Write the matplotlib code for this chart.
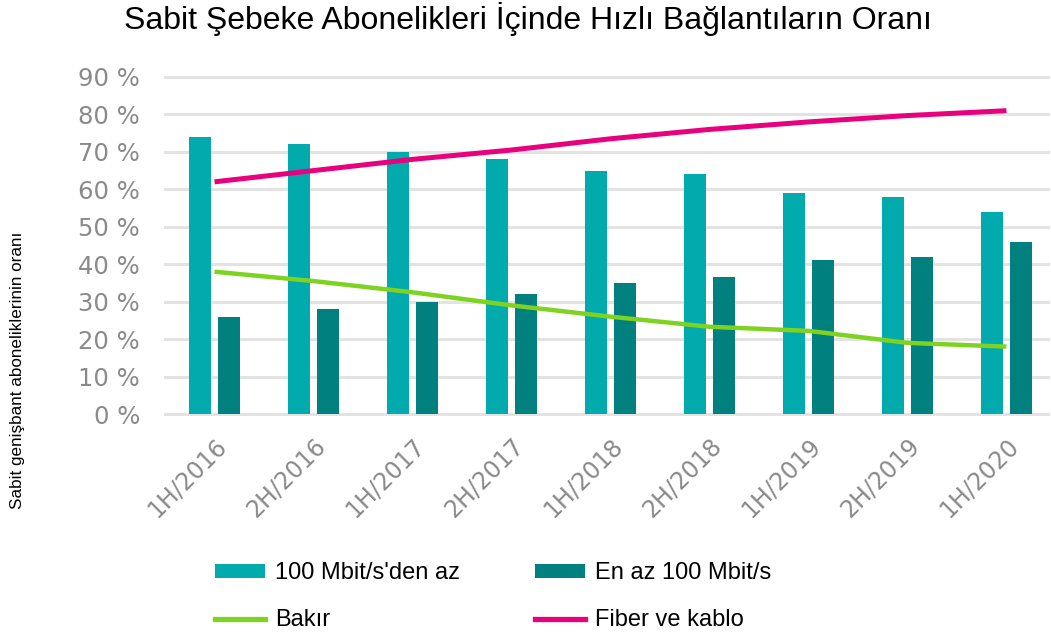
import matplotlib
matplotlib.use("Agg")
import matplotlib.pyplot as plt
from matplotlib.patches import Patch
from matplotlib.lines import Line2D
from matplotlib import font_manager
import numpy as np

categories = ["1H/2016", "2H/2016", "1H/2017", "2H/2017", "1H/2018",
              "2H/2018", "1H/2019", "2H/2019", "1H/2020"]
below_100 = [74, 72, 70, 68, 65, 64, 59, 58, 54]
atleast_100 = [26, 28, 30, 32, 35, 36.5, 41, 42, 46]
bakir = [38, 35.5, 32.5, 29, 26, 23.3, 22.2, 19, 18]
fiber = [62, 65, 68, 70.5, 73.5, 76, 78, 79.7, 81]
yticks = [0, 10, 20, 30, 40, 50, 60, 70, 80, 90]

C_TEAL = "#00AAAD"
C_DARK = "#00807F"
C_GREEN = "#7ED321"
C_PINK = "#E8007D"
GRID = "#E3E3E3"
TICK = "#8A8A8A"

names = {f.name for f in font_manager.fontManager.ttflist}
narrow = "Liberation Sans Narrow" in names

W, H = 1051, 635
fig = plt.figure(figsize=(W / 100, H / 100), dpi=100)
ax_l, ax_r, ax_t, ax_b = 165, 1048, 77, 414
ax = fig.add_axes([ax_l / W, 1 - ax_b / H, (ax_r - ax_l) / W, (ax_b - ax_t) / H])

x = np.arange(len(categories))
bw = 0.22
ax.bar(x - 0.145, below_100, width=bw, color=C_TEAL, zorder=2)
ax.bar(x + 0.145, atleast_100, width=bw, color=C_DARK, zorder=2)
ax.plot(x, bakir, color=C_GREEN, lw=3.2, zorder=3, solid_capstyle="butt")
ax.plot(x, fiber, color=C_PINK, lw=3.6, zorder=3, solid_capstyle="butt")

ax.set_xlim(-0.5, 8.42)
ax.set_ylim(0, 90)
ax.set_yticks(yticks)
ax.set_yticklabels([f"{v} %" for v in yticks], color=TICK, fontsize=17.5,
                   family="DejaVu Sans")
for v in yticks:
    ax.axhline(v, color=GRID, lw=2.2, zorder=1, clip_on=False)
ax.tick_params(axis="y", length=0, pad=18)
ax.tick_params(axis="x", length=0, pad=14)
ax.set_xticks(x)
ax.set_xticklabels(categories, rotation=45, ha="right", va="top",
                   rotation_mode="anchor", color=TICK, fontsize=17,
                   family="DejaVu Sans")
for s in ax.spines.values():
    s.set_visible(False)

fig.text(528 / W, 1 - 19 / H, "Sabit Şebeke Abonelikleri İçinde Hızlı Bağlantıların Oranı",
         ha="center", va="center", fontsize=23, family="Liberation Sans", color="black")
if narrow:
    fig.text(18 / W, 1 - 370 / H, "Sabit genişbant aboneliklerinin oranı", rotation=90,
             ha="center", va="center", fontsize=14,
             family=["Liberation Sans Narrow", "DejaVu Sans"], color="black")
else:
    fig.text(18 / W, 1 - 370 / H, "Sabit genişbant aboneliklerinin oranı", rotation=90,
             ha="center", va="center", fontsize=12.3,
             family=["Liberation Sans", "DejaVu Sans"], color="black")

handles = [Patch(facecolor=C_TEAL), Line2D([0], [0], color=C_GREEN, lw=3.8),
           Patch(facecolor=C_DARK), Line2D([0], [0], color=C_PINK, lw=3.8)]
labels = ["100 Mbit/s'den az", "Bakır", "En az 100 Mbit/s", "Fiber ve kablo"]
fig.legend(handles, labels, ncol=2, loc="upper left",
           bbox_to_anchor=(215 / W, 1 - 562 / H), frameon=False, borderpad=0,
           borderaxespad=0,
           prop={"family": "Liberation Sans", "size": 17},
           handlelength=2.12, handleheight=0.55, handletextpad=0.42,
           columnspacing=3.18, labelspacing=1.08)

fig.savefig("out.png", dpi=100)
